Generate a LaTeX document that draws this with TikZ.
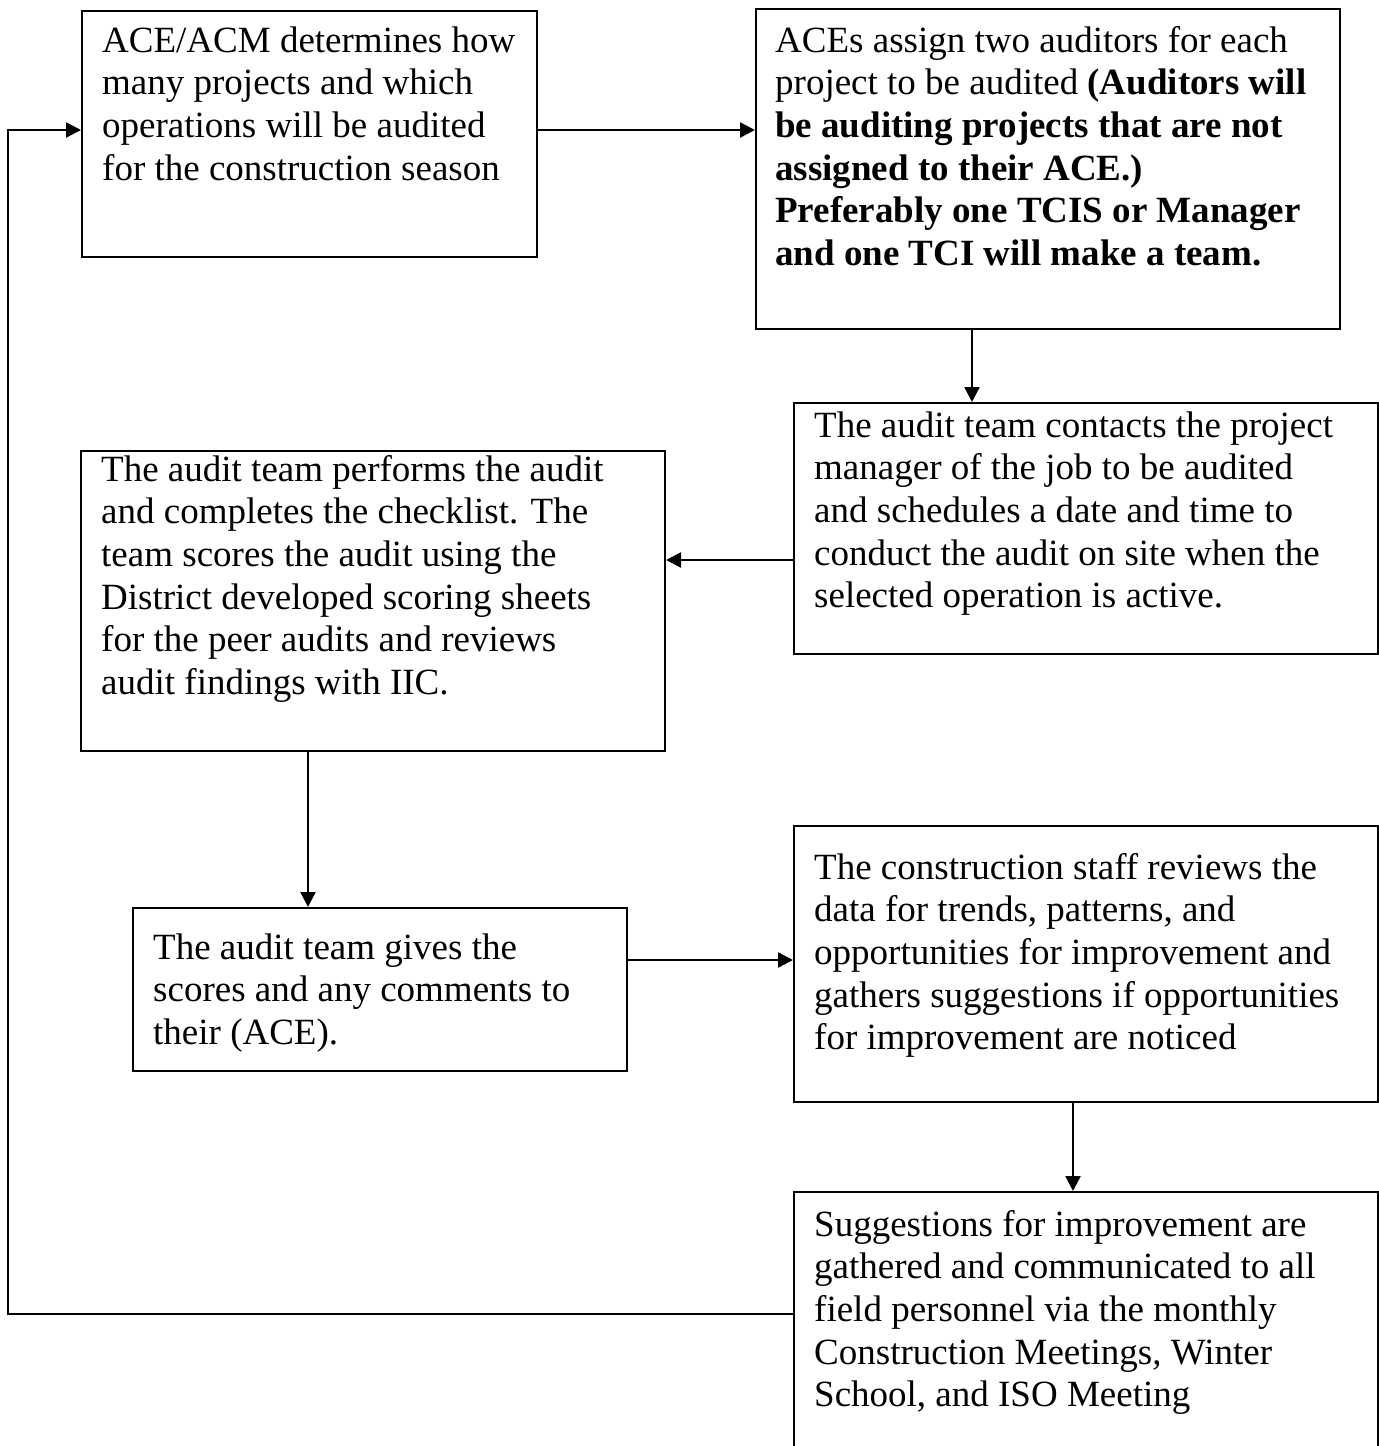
\documentclass[tikz,border=0pt]{standalone}
\usepackage{fontspec}
\setmainfont{Liberation Serif}
\usetikzlibrary{arrows.meta}
\begin{document}
\begin{tikzpicture}[x=1pt,y=-1pt,
  box/.style={draw, line width=2pt, rectangle, inner sep=0pt, anchor=north west},
  txt/.style={anchor=north west, inner sep=0pt, align=left, font=\fontsize{37}{42.7}\selectfont},
  conn/.style={line width=2.4pt, -{Triangle[length=15pt,width=15pt]}}]
\useasboundingbox (0,0) rectangle (1379,1446);
% boxes
\node[box, minimum width=455pt, minimum height=246pt] (A) at (81,10) {};
\node[box, minimum width=584pt, minimum height=320pt] (B) at (755,8) {};
\node[box, minimum width=584pt, minimum height=251pt] (C) at (793,402) {};
\node[box, minimum width=584pt, minimum height=300pt] (D) at (80,450) {};
\node[box, minimum width=494pt, minimum height=163pt] (E) at (132,907) {};
\node[box, minimum width=584pt, minimum height=276pt] (F) at (793,825) {};
\node[box, minimum width=584pt, minimum height=300pt] (G) at (793,1191) {};
% texts
\node[txt] (tA) at (102,22) {\strut ACE/ACM determines how\\many projects and which\\operations will be audited\\for the construction season};
\node[txt] (tB) at (775,22) {\strut ACEs assign two auditors for each\\project to be audited \textbf{(Auditors will}\\\textbf{be auditing projects that are not}\\\textbf{assigned to their ACE.)}\\\textbf{Preferably one TCIS or Manager}\\\textbf{and one TCI will make a team.}};
\node[txt] (tC) at (814,407) {\strut The audit team contacts the project\\manager of the job to be audited\\and schedules a date and time to\\conduct the audit on site when the\\selected operation is active.};
\node[txt] (tD) at (101,451) {\strut The audit team performs the audit\\and completes the checklist. The\\team scores the audit using the\\District developed scoring sheets\\for the peer audits and reviews\\audit findings with IIC.};
\node[txt] (tE) at (153,929) {\strut The audit team gives the\\scores and any comments to\\their (ACE).};
\node[txt] (tF) at (814,849) {\strut The construction staff reviews the\\data for trends, patterns, and\\opportunities for improvement and\\gathers suggestions if opportunities\\for improvement are noticed};
\node[txt] (tG) at (814,1206) {\strut Suggestions for improvement are\\gathered and communicated to all\\field personnel via the monthly\\Construction Meetings, Winter\\School, and ISO Meeting};
% connector helper coordinates
\coordinate (yAB) at (0,130);
\coordinate (xBC) at (972,0);
\coordinate (yCD) at (0,560);
\coordinate (xDE) at (308,0);
\coordinate (yEF) at (0,960);
\coordinate (xFG) at (1073,0);
\coordinate (lb) at (8,1314);
\coordinate (lt) at (8,130);
% connectors
\draw[conn] (A.east |- yAB) -- (B.west |- yAB);
\draw[conn] (B.south -| xBC) -- (C.north -| xBC);
\draw[conn] (C.west |- yCD) -- (D.east |- yCD);
\draw[conn] (D.south -| xDE) -- (E.north -| xDE);
\draw[conn] (E.east |- yEF) -- (F.west |- yEF);
\draw[conn] (F.south -| xFG) -- (G.north -| xFG);
\draw[conn] (G.west |- lb) -- (lb) -- (lt) -- (A.west |- lt);
\end{tikzpicture}
\end{document}
